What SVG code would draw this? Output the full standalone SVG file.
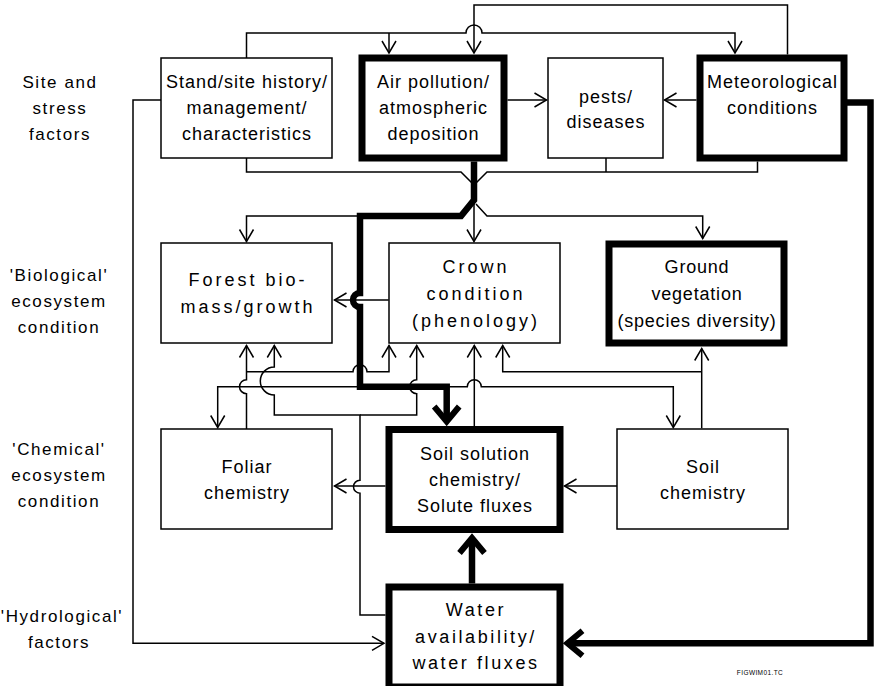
<svg xmlns="http://www.w3.org/2000/svg" width="874" height="686" viewBox="0 0 874 686">
<style>
.box{fill:#fff;stroke:#000;stroke-width:1.5}
.thick{stroke-width:7}
.c{fill:none;stroke:#000;stroke-width:1.5;stroke-linejoin:miter}
.ct{fill:none;stroke:#000;stroke-width:6.5;stroke-linejoin:miter}
.a{marker-end:url(#ah)}
.at{marker-end:url(#th)}
text{font-family:"Liberation Sans",Arial,Helvetica,sans-serif;fill:#000;text-anchor:middle}
.t{font-size:18px;letter-spacing:1px}
.w{letter-spacing:3px}
.g{letter-spacing:0.8px}
.wa{letter-spacing:2.6px}
.lab{font-size:17px;letter-spacing:1.6px}
.tiny{font-size:6.5px;letter-spacing:0.4px}
</style>
<defs>
<marker id="ah" viewBox="-14 -10 16 20" refX="0" refY="0" markerWidth="16" markerHeight="20" markerUnits="userSpaceOnUse" orient="auto"><path d="M-12,-7 L0,0 L-12,7" fill="none" stroke="#000" stroke-width="1.5"/></marker>
<marker id="th" viewBox="-20 -18 28 36" refX="0" refY="0" markerWidth="28" markerHeight="36" markerUnits="userSpaceOnUse" orient="auto"><path d="M-15,-12.5 L0,0 L-15,12.5" fill="none" stroke="#000" stroke-width="6"/></marker>
</defs>

<g id="labels">
<text class="lab" x="60" y="88">Site and</text>
<text class="lab" x="60" y="114">stress</text>
<text class="lab" x="60" y="140">factors</text>
<text class="lab" x="59" y="281">'Biological'</text>
<text class="lab" x="59" y="307">ecosystem</text>
<text class="lab" x="59" y="333">condition</text>
<text class="lab" x="59" y="455">'Chemical'</text>
<text class="lab" x="59" y="481">ecosystem</text>
<text class="lab" x="59" y="507">condition</text>
<text class="lab" x="62" y="622">'Hydrological'</text>
<text class="lab" x="59" y="648">factors</text>
</g>

<g id="connectors">
<path class="c a" d="M246.5,58 V33 H466 A8,8 0 0 1 482,33 H735 V53"/>
<path class="c a" d="M389,33 V53"/>
<path class="c a" d="M787.5,54.5 V5 H474 V53"/>
<path class="c a" d="M507.5,100 H546.5"/>
<path class="c a" d="M696.5,100 H664.5"/>
<path class="ct at" d="M847,102.5 H870.5 V643.3 H567.5"/>
<path class="c a" d="M161,100 H133 V643.3 H384"/>
<path class="c" d="M246.5,158 V172 H461 L472,183"/>
<path class="c" d="M606,158 V172"/>
<path class="c" d="M757.5,161.5 V172 H487 L476,183"/>
<path class="ct at" d="M474,161.5 V200 L461,216 H360 V293 A7,7 0 0 0 360,307 V386.7 H446.7 V421.5"/>
<path class="c a" d="M360,216 H246.5 V241.5"/>
<path class="c a" d="M476,204 L487,216 H702.7 V238.5"/>
<path class="c a" d="M474,204 V241.5"/>
<path class="c a" d="M388.7,300 H334.5"/>
<path class="c a" d="M246.5,429 V393.7 A7,7 0 0 1 246.5,379.7 V345.5"/>
<path class="c a" d="M246.5,371.7 H353 A7,7 0 0 1 367,371.7 H389 V345.5"/>
<path class="c a" d="M360,386.7 H217.7 V427.5"/>
<path class="c a" d="M446.7,386.7 H467.3 A7,7 0 0 1 481.3,386.7 H673.3 V427.5"/>
<path class="c a" d="M385.5,615 H360 V493.2 A6.5,6.5 0 0 1 360,480.2 V415 H274.3 V395 A14,14 0 0 1 274.3,367 V345.5"/>
<path class="c a" d="M360,415 H416.7 V393.7 A7,7 0 0 1 416.7,379.7 V345.5"/>
<path class="c a" d="M474.3,426 V345.5"/>
<path class="c a" d="M701.7,428.25 V348.5"/>
<path class="c a" d="M701.7,371.7 H502.7 V345.5"/>
<path class="c a" d="M617,486 H564.5"/>
<path class="c a" d="M385.5,486 H334.5"/>
<path class="ct at" d="M472,583.5 V538"/>
</g>

<g id="stand"><rect class="box" x="161" y="58" width="171" height="100"/>
<text class="t" x="247" y="88">Stand/site history/</text><text class="t" x="247" y="114">management/</text><text class="t" x="247" y="140">characteristics</text></g>
<g id="air"><rect class="box thick" x="362" y="58" width="142" height="100"/>
<text class="t" x="433.5" y="88">Air pollution/</text><text class="t" x="433.5" y="114">atmospheric</text><text class="t" x="433.5" y="140">deposition</text></g>
<g id="pests"><rect class="box" x="548" y="58" width="115" height="100"/>
<text class="t" x="606" y="102.5">pests/</text><text class="t" x="606" y="127.5">diseases</text></g>
<g id="meteo"><rect class="box thick" x="700" y="58" width="144" height="100"/>
<text class="t" x="772.5" y="88">Meteorological</text><text class="t" x="772.5" y="114">conditions</text></g>

<g id="forest"><rect class="box" x="161" y="243" width="171" height="100"/>
<text class="t w" x="248" y="286">Forest bio-</text><text class="t w" x="248" y="313">mass/growth</text></g>
<g id="crown"><rect class="box" x="389" y="243" width="171" height="100"/>
<text class="t w" x="476" y="273">Crown</text><text class="t w" x="476" y="300">condition</text><text class="t w" x="476" y="327">(phenology)</text></g>
<g id="ground"><rect class="box thick" x="609" y="244" width="175" height="99"/>
<text class="t g" x="697" y="273">Ground</text><text class="t g" x="697" y="300">vegetation</text><text class="t g" x="697" y="327">(species diversity)</text></g>

<g id="foliar"><rect class="box" x="161" y="429" width="171" height="100"/>
<text class="t" x="247" y="472.5">Foliar</text><text class="t" x="247" y="499">chemistry</text></g>
<g id="soilsolution"><rect class="box thick" x="389" y="429.5" width="171" height="100"/>
<text class="t" x="475" y="460">Soil solution</text><text class="t" x="475" y="486">chemistry/</text><text class="t" x="475" y="512">Solute fluxes</text></g>
<g id="soilchem"><rect class="box" x="617" y="429" width="171" height="100"/>
<text class="t" x="703" y="472.5">Soil</text><text class="t" x="703" y="499">chemistry</text></g>

<g id="water"><rect class="box thick" x="389" y="587" width="171" height="100"/>
<text class="t wa" x="476" y="616">Water</text><text class="t wa" x="476" y="642.5">availability/</text><text class="t wa" x="476" y="668.5">water fluxes</text></g>

<text class="tiny" x="760" y="675">FIGWIM01.TC</text>
</svg>
